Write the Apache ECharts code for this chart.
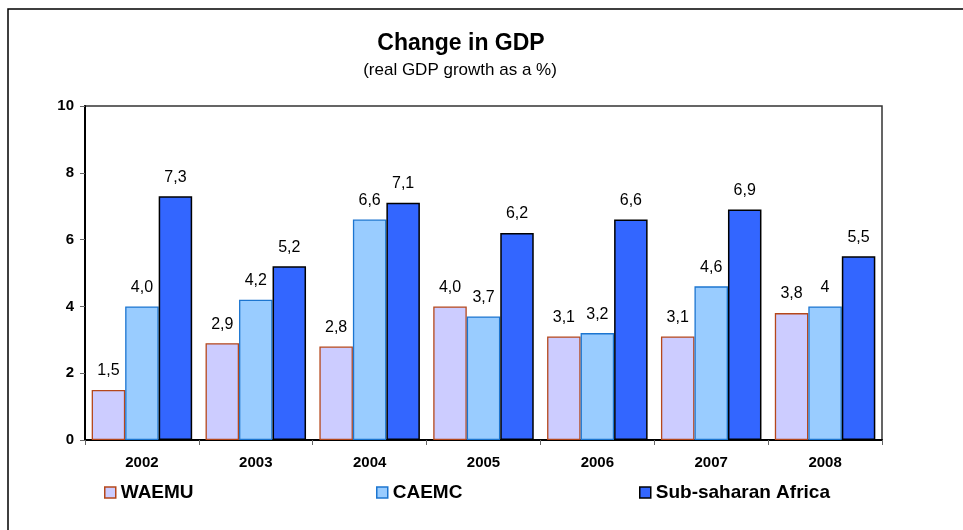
<!DOCTYPE html>
<html>
<head>
<meta charset="utf-8">
<script src="https://cdn.jsdelivr.net/npm/echarts@6/dist/echarts.min.js"></script>
<style>html,body{margin:0;padding:0;background:#fff;}#c{width:963px;height:530px;}</style>
</head>
<body>
<div id="c"></div>
<script>
const years = ['2002','2003','2004','2005','2006','2007','2008'];
const waemu = [1.5, 2.9, 2.8, 4.0, 3.1, 3.1, 3.8];
const waemuLabels = ['1,5','2,9','2,8','4,0','3,1','3,1','3,8'];
const caemc = [4.0, 4.2, 6.6, 3.7, 3.2, 4.6, 4.0];
const caemcLabels = ['4,0','4,2','6,6','3,7','3,2','4,6','4'];
const ssa = [7.3, 5.2, 7.1, 6.2, 6.6, 6.9, 5.5];
const ssaLabels = ['7,3','5,2','7,1','6,2','6,6','6,9','5,5'];
const yTicks = [0, 2, 4, 6, 8, 10];

const FONT = '"Liberation Sans", Arial, sans-serif';
function mk(name, vals, labels, fill, border, bw) {
  return {
    name: name, type: 'bar', barWidth: 33.5, barGap: '0%', barCategoryGap: '11.8%',
    itemStyle: { color: fill, borderColor: border, borderWidth: bw },
    label: {
      show: true, position: 'top', distance: 11, color: '#000', fontSize: 16, fontFamily: FONT,
      formatter: p => labels[p.dataIndex]
    },
    data: vals
  };
}
function leg(name, x, fill, border) {
  return {
    data: [{ name: name, itemStyle: { color: fill, borderColor: border, borderWidth: 1.5 } }],
    left: x, top: 478, itemWidth: 11, itemHeight: 11, icon: 'rect',
    textStyle: { fontFamily: FONT, fontSize: 19, fontWeight: 'bold', color: '#000' }
  };
}
const chart = echarts.init(document.getElementById('c'));
chart.setOption({
  backgroundColor: '#fff',
  animation: false,
  title: [
    { text: 'Change in GDP', left: 456, textAlign: 'center', top: 27,
      textStyle: { fontFamily: FONT, fontSize: 23, fontWeight: 'bold', color: '#000' } },
    { text: '(real GDP growth as a %)', left: 455, textAlign: 'center', top: 57,
      textStyle: { fontFamily: FONT, fontSize: 17, fontWeight: 'normal', color: '#000' } }
  ],
  graphic: [{ type: 'rect', shape: { x: 8, y: 9, width: 1000, height: 600 },
    style: { fill: 'none', stroke: '#000', lineWidth: 1.5 } }],
  legend: [
    leg('WAEMU', 99, '#CCCCFF', '#B5471B'),
    leg('CAEMC', 371, '#99CCFF', '#1C75D0'),
    leg('Sub-saharan Africa', 634, '#3366FF', '#000')
  ],
  grid: { left: 85, right: 81, top: 106, bottom: 90, show: true, borderColor: '#333', borderWidth: 1.5 },
  xAxis: {
    type: 'category', data: years,
    axisLine: { lineStyle: { color: '#000', width: 2 } },
    axisTick: { show: true, alignWithLabel: false, length: 5, lineStyle: { color: '#666' } },
    axisLabel: { fontFamily: FONT, fontSize: 15, fontWeight: 'bold', color: '#000', margin: 15 }
  },
  yAxis: {
    type: 'value', min: 0, max: 10, interval: 2,
    axisLine: { show: true, lineStyle: { color: '#000', width: 2 } },
    axisTick: { show: true, length: 5, lineStyle: { color: '#666' } },
    splitLine: { show: false },
    axisLabel: { fontFamily: FONT, fontSize: 15, fontWeight: 'bold', color: '#000', margin: 11,
      formatter: v => yTicks.includes(v) ? String(v) : '' }
  },
  series: [
    mk('WAEMU', waemu, waemuLabels, '#CCCCFF', '#B5471B', 1.3),
    mk('CAEMC', caemc, caemcLabels, '#99CCFF', '#1C75D0', 1.3),
    mk('Sub-saharan Africa', ssa, ssaLabels, '#3366FF', '#000', 1.5)
  ]
});
</script>
</body>
</html>
